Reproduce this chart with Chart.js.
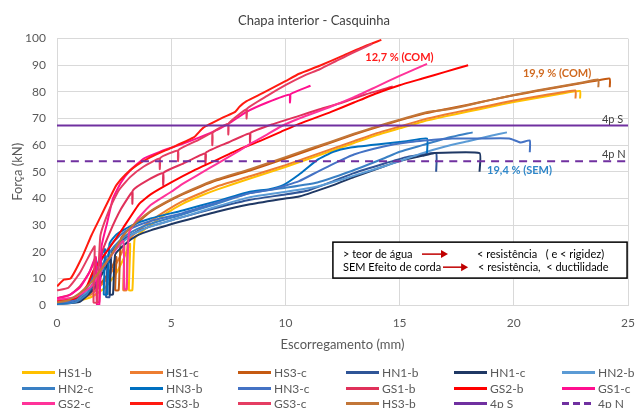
<!DOCTYPE html>
<html>
<head>
<meta charset="utf-8">
<script src="https://cdn.jsdelivr.net/npm/chart.js@4.4.0/dist/chart.umd.min.js"></script>
<style>
  html, body { margin: 0; padding: 0; background: #fff; }
  #wrap { position: relative; width: 635px; height: 408px; overflow: hidden; }
  #legend { position: absolute; left: 22px; top: 365px; display: grid; grid-template-columns: repeat(6, 108px); grid-auto-rows: 15.5px; font: 12px Lato, sans-serif; color: #595959; }
  #legend .item { display: flex; align-items: center; white-space: nowrap; height: 15.5px; line-height: 15.5px; }
  #legend .sw { width: 33px; height: 3px; margin-right: 3px; }
</style>
</head>
<body>
<div id="wrap">
  <canvas id="chart" width="635" height="408"></canvas>
  <div id="legend"></div>
</div>
<script>
// series names (legend order)
const names = ["HS1-b", "HS1-c", "HS3-c", "HN1-b", "HN1-c", "HN2-b", "HN2-c", "HN3-b", "HN3-c",
  "GS1-b", "GS2-b", "GS1-c", "GS2-c", "GS3-b", "GS3-c", "HS3-b", "4p S", "4p N"];

// [slip mm, force kN]
const hs1b = [[0,0.5],[0.8,1.2],[1.5,3],[2.1,6.5],[2.6,12],[2.95,18],[3.2,23],[3.15,5.6],[3.3,5.6],[3.4,25],[3.7,27.5],[4.1,30],[4.8,34.5],[5.5,38],[6.3,41],[7,43.3],[8.45,47.5],[10,51.8],[11,54.8],[12,57.8],[13,60.8],[14,63.8],[15,66.3],[16,68.8],[17,70.8],[18,72.6],[19,74.4],[20,76.2],[21,77.7],[22,79.2],[22.9,80.3],[22.9,77.5]];
const hs1c = [[0,1],[0.8,1.8],[1.5,4],[2.1,9],[2.5,14],[2.8,19],[2.95,22],[2.9,5.6],[3.05,5.6],[3.1,24],[3.5,27.5],[4.1,31.5],[4.8,35.5],[5.5,39],[6.3,42],[7,44.5],[8.45,48.3],[10,52.5],[11,55.5],[12,58.5],[13,61.5],[14,64.5],[15,67],[16,69.5],[17,71.5],[18,73.3],[19,75],[20,76.8],[21,78.3],[22,79.7],[22.7,80.5],[22.7,77.5]];
const hs3c = [[0,1.5],[0.8,2.5],[1.5,5],[2,9],[2.4,14],[2.6,18],[2.55,5.6],[2.7,5.6],[2.8,25],[3.1,28],[3.6,31.5],[4.1,35],[4.8,38.5],[5.5,41.5],[6.3,44.5],[7,46.8],[8.45,50.5],[10,55],[11,58],[12,61],[13,64],[14,66.7],[15,69.3],[16,71.7],[17,73.5],[18,75.2],[19,77],[20,78.7],[21,80.3],[22,81.8],[23,83.3],[23.6,84.2],[24.2,85],[24.2,81.7]];
const hn1b = [[0,0.5],[0.9,1.5],[1.5,6],[1.9,12],[2.2,17],[2.15,3],[2.3,3],[2.4,20],[2.9,24.5],[3.5,27.5],[4.1,29.5],[5.5,33],[7,36.5],[8.45,39.5],[10,41.5],[11,43],[12.1,46.5],[13,49.5],[14.3,53],[15.3,55.5],[16,56.5],[16.6,57],[16.6,50]];
const hn1c = [[0,0.3],[1,1.2],[1.6,6],[2,12],[2.35,17],[2.3,4],[2.45,4],[2.55,19],[3,23],[3.5,26],[4.1,28],[5.5,31.5],[7,35],[8.45,37.8],[10,40],[10.6,40.7],[12.1,45],[13,48],[14.3,52],[15,54],[16,56],[16.5,57],[18.5,57],[18.5,50]];
const hn2b = [[0,1],[0.8,2],[1.3,5],[1.8,11],[2.3,18],[2.8,23],[3.3,26.5],[4.1,29.5],[5.5,33],[7,37],[8.45,40.5],[10,42.5],[11.4,44.5],[12.8,48],[14.3,52],[15,54],[16,57],[17,59.5],[18,61.5],[19,63.5],[19.7,64.8]];
const hn2c = [[0,0.3],[0.8,1],[1.3,4],[1.7,10],[2.1,17],[2.5,22],[3,26],[3.5,28.5],[4.1,30.5],[5.5,34],[7,38],[8.45,42],[10,44],[11.4,46],[12.8,50],[14.3,55],[15,57.5],[16,60],[17,62.5],[18.2,64.8]];
const hn3b = [[0,0.5],[0.6,1.2],[1,3.5],[1.4,8],[1.9,18],[2.1,21],[2.05,4],[2.2,4],[2.3,23],[2.6,26.5],[3.3,30],[4.1,32.5],[5.5,35.5],[7,39],[8.45,42.5],[9.3,43.5],[9.9,45],[10.6,49],[11.4,54.5],[12.1,57.5],[12.8,59],[14.3,60.5],[15.3,61.5],[16.2,62.5],[16.2,57]];
const hn3c = [[0,0.8],[0.7,1.5],[1.1,4],[1.5,9],[1.9,16],[2.3,22],[2.8,26.5],[3.3,29],[4.1,31.5],[5.5,34.5],[7,38.5],[8.45,42],[9.5,43.5],[10.6,46.5],[11.4,50],[12.1,53],[13,56.5],[14.3,59.5],[15.3,61],[16.5,62],[17.3,62.5],[18.5,62.5],[19.8,62.5],[20.3,61],[20.7,61.8],[20.7,57.3]];
const gs1b = [[0,2.5],[0.6,4],[1,7],[1.4,12],[1.7,17],[1.75,1],[1.85,1],[1.95,19],[2.3,27],[2.8,36],[3.3,42.5],[3.3,38],[3.32,43],[3.9,46.5],[4.65,49.5],[4.65,45],[4.67,49.7],[5.5,53],[6.5,57],[6.5,53],[6.52,57.2],[7.5,61],[8.45,64.5],[8.45,61],[8.47,64.6],[9.5,68],[10.6,71],[11.5,73.5],[12.5,76],[13.5,79],[14.7,82]];
const gs2b = [[0,1.5],[0.8,2.5],[1.3,7],[1.6,13],[2.3,21.5],[2.9,29],[3.6,38],[4.1,41.5],[5,46],[6,50.5],[7,54.5],[8,58.5],[9,62],[9.8,65],[10.6,68],[12,72.5],[13,76],[14,79.5],[15,82.5],[16,85],[17,87.5],[18,90]];
const gs1c = [[0,2.5],[0.5,3.5],[1,6.5],[1.4,12],[1.7,18],[1.75,0],[1.85,0],[1.95,22],[2.2,31],[2.45,40],[2.8,46],[3.2,50.5],[3.8,55],[4.5,57.5],[5.5,60.5],[6.7,64.5],[7.5,68],[8.3,72.5],[9.2,76],[10.2,79],[10.2,76],[10.22,79.1],[11.1,82.3]];
const gs2c = [[0,2],[0.8,3],[1.5,7],[2,14],[2.5,20],[2.9,24],[2.95,6],[3.05,6],[3.15,27],[3.5,32],[4.1,37.5],[5,42.5],[5.5,45.5],[6.3,49.5],[7,53],[8,58],[8.45,60.5],[9,63],[9.8,67],[10.6,70],[12,74.5],[13,78],[14,82],[15,86],[16.2,90.5]];
const gs3b = [[0,7],[0.3,9.5],[0.6,10],[1.1,18],[1.5,26],[1.9,33],[2.3,40],[2.6,45],[3,49],[3.5,52.5],[4.1,55.5],[5,59],[6,63],[6.4,66.5],[7.3,70.5],[7.8,72.5],[8,74.5],[8.3,76.5],[9,79.5],[10,84],[10.6,86.8],[11.5,89.8],[12.5,93.5],[13.3,96.5],[14.2,99.5]];
const gs3c = [[0,5.5],[0.5,6.5],[1,12],[1.5,20],[1.65,22],[1.6,1],[1.75,1],[1.9,26],[2.3,36],[2.7,43],[3.2,48],[3.8,52],[4.5,55],[4.5,51],[4.52,55.2],[5.3,58],[5.3,54],[5.32,58.2],[6.2,62],[6.8,64.5],[6.8,60],[6.82,64.7],[7.5,68],[7.5,64],[7.52,68.2],[8.3,73.5],[8.3,70],[8.32,73.7],[9.2,78.5],[10,82.5],[10.8,86],[11.5,88.5],[12.2,91.5],[12.9,94.5],[13.8,98]];
const hs3b = [[0,1],[0.5,1.8],[1,4.5],[1.5,8.5],[1.9,13],[2.4,19],[2.75,24],[3.1,28],[3.6,32],[4.1,35.3],[4.8,38.8],[5.5,41.8],[6.3,44.8],[7,47.2],[8.45,51],[10,55.5],[11,58.5],[12,61.3],[13,64.3],[14,67],[15,69.6],[16,72],[16.5,72.8],[17,73.3],[18,75],[19,77],[20,78.8],[21,80.5],[22,82],[23,83.5],[23.7,84.6],[23.7,81.7]];
const p4S = [[0,67.4],[25,67.4]];
const p4N = [[0,54],[25,54]];

const series = [hs1b, hs1c, hs3c, hn1b, hn1c, hn2b, hn2c, hn3b, hn3c, gs1b, gs2b, gs1c, gs2c, gs3b, gs3c, hs3b, p4S, p4N];
const colors = ["#FFC000", "#ED7D31", "#C55A11", "#2F5597", "#1F3864", "#5B9BD5", "#3A80C4", "#0070C0", "#4472C4",
  "#E0315A", "#FF0000", "#FF0F8F", "#FF3399", "#FF1A10", "#E53D62", "#C27638", "#7030A0", "#7030A0"];

const datasets = series.map((pts, i) => ({
  label: names[i],
  data: pts.map(p => ({ x: p[0], y: p[1] })),
  borderColor: colors[i],
  backgroundColor: colors[i],
  borderWidth: 2,
  borderDash: names[i] === "4p N" ? [8, 6] : [],
  pointRadius: 0,
  tension: 0.15,
  fill: false,
  order: 100 - i
}));

// text annotations and the note box
const notes = {
  id: "notes",
  afterDatasetsDraw(chart) {
    const { ctx, scales: { x, y } } = chart;
    ctx.save();
    ctx.textBaseline = "middle";
    const put = (t, xv, yv, color, font) => {
      ctx.fillStyle = color;
      ctx.font = font;
      ctx.textAlign = "left";
      ctx.fillText(t, x.getPixelForValue(xv), y.getPixelForValue(yv));
    };
    put("12,7 % (COM)", 13.5, 92.9, "#FF1A1A", "bold 11px Lato");
    put("19,9 % (COM)", 20.4, 86.9, "#D0691F", "bold 11px Lato");
    put("19,4 % (SEM)", 18.83, 50.6, "#2E86C8", "bold 11px Lato");
    put("4p S", 23.86, 69.8, "#404040", "11px Lato");
    put("4p N", 23.86, 56.6, "#404040", "11px Lato");

    // note box
    const bx0 = x.getPixelForValue(12.08), bx1 = x.getPixelForValue(24.96);
    const by0 = y.getPixelForValue(23.6), by1 = y.getPixelForValue(10.1);
    ctx.fillStyle = "#fff";
    ctx.fillRect(bx0, by0, bx1 - bx0, by1 - by0);
    ctx.strokeStyle = "#000";
    ctx.lineWidth = 1.5;
    ctx.strokeRect(bx0, by0, bx1 - bx0, by1 - by0);
    put("> teor de água", 12.52, 19.1, "#000", "11px Lato");
    put("< resistência   ( e < rigidez)", 18.39, 19.1, "#000", "11px Lato");
    put("SEM Efeito de corda", 12.52, 14.2, "#000", "11px Lato");
    put("< resistência,  < ductilidade", 18.43, 14.2, "#000", "11px Lato");
    const arrow = (xa, xb, yv) => {
      const a = x.getPixelForValue(xa), b = x.getPixelForValue(xb), py = y.getPixelForValue(yv);
      ctx.strokeStyle = "#C00000";
      ctx.fillStyle = "#C00000";
      ctx.lineWidth = 1.5;
      ctx.beginPath(); ctx.moveTo(a, py); ctx.lineTo(b - 6, py); ctx.stroke();
      ctx.beginPath(); ctx.moveTo(b, py); ctx.lineTo(b - 7, py - 4); ctx.lineTo(b - 7, py + 4); ctx.closePath(); ctx.fill();
    };
    arrow(15.98, 17.12, 19.1);
    arrow(16.9, 18.0, 14.2);
    ctx.restore();
  }
};

const chart = new Chart(document.getElementById("chart"), {
  type: "line",
  data: { datasets },
  options: {
    responsive: false,
    animation: false,
    layout: { padding: { left: 0, right: 7, top: 0, bottom: 53 } },
    plugins: {
      legend: { display: false },
      tooltip: { enabled: false },
      title: {
        display: true,
        text: "Chapa interior - Casquinha",
        color: "#404040",
        font: { family: "Lato", size: 13, weight: "normal" },
        padding: { top: 13, bottom: 10 }
      }
    },
    scales: {
      x: {
        type: "linear", min: 0, max: 25,
        ticks: { stepSize: 5, color: "#595959", font: { family: "Lato", size: 12 }, padding: 11 },
        grid: { color: "#d9d9d9", drawTicks: false },
        border: { color: "#d9d9d9" },
        title: { display: true, text: "Escorregamento (mm)", color: "#595959", font: { family: "Lato", size: 13 }, padding: { top: 2, bottom: 2 } },
        afterFit: s => { s.height = 50; s.paddingLeft = 0; s.paddingRight = 0; }
      },
      y: {
        min: 0, max: 100,
        ticks: { stepSize: 10, color: "#595959", font: { family: "Lato", size: 12 }, padding: 11 },
        grid: { color: "#d9d9d9", drawTicks: false },
        border: { color: "#d9d9d9" },
        title: { display: true, text: "Força (kN)", color: "#595959", font: { family: "Lato", size: 13 }, padding: { top: 10, bottom: 0 } },
        afterFit: s => { s.width = 57; }
      }
    }
  },
  plugins: [notes]
});

// legend in a 6-column grid like the original
const legend = document.getElementById("legend");
chart.data.datasets.forEach(ds => {
  const item = document.createElement("div");
  item.className = "item";
  const sw = document.createElement("span");
  sw.className = "sw";
  sw.style.background = ds.borderDash.length
    ? `repeating-linear-gradient(90deg, ${ds.borderColor} 0 7px, transparent 7px 11px)`
    : ds.borderColor;
  item.appendChild(sw);
  item.appendChild(document.createTextNode(ds.label));
  legend.appendChild(item);
});
</script>
</body>
</html>
